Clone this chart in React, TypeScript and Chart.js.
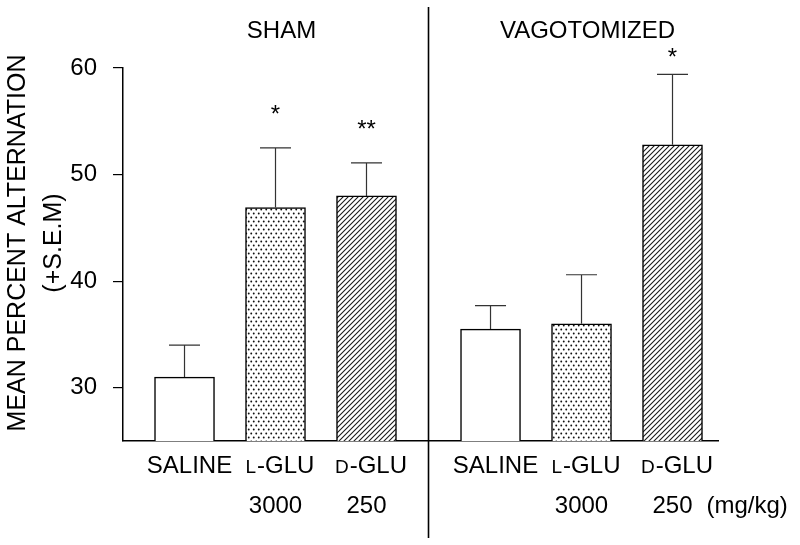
import React, { useEffect, useRef } from "react";
import { Chart, registerables } from "chart.js";
Chart.register(...registerables);

// ---- data ----
const groups = ["SHAM", "VAGOTOMIZED"];
const treatments = ["SALINE", "L-GLU", "D-GLU"];
const doses = ["", "3000", "250"];
const doseUnit = "(mg/kg)";
const shamMeans = [31.0, 46.9, 48.0];
const shamSem = [3.0, 5.6, 3.1];
const vagMeans = [35.5, 36.0, 52.8];
const vagSem = [2.2, 4.6, 6.6];
const shamSig = ["", "*", "**"];
const vagSig = ["", "", "*"];
const yTicks = [30, 40, 50, 60];
const yTitle = ["MEAN PERCENT ALTERNATION", "(+S.E.M)"];

const means = [shamMeans, vagMeans];
const sems = [shamSem, vagSem];
const sigs = [shamSig, vagSig];

// ---- layout / style constants ----
const GROUP_GAP = 3.363;
const FONT = "'Liberation Sans', Arial, Helvetica, sans-serif";

function makeDots(): CanvasPattern | string {
  const w = 5;
  const h = 8;
  const c = document.createElement("canvas");
  c.width = w;
  c.height = h;
  const g = c.getContext("2d");
  if (!g) return "#ccc";
  g.fillStyle = "#fff";
  g.fillRect(0, 0, w, h);
  g.fillStyle = "#111";
  g.beginPath();
  g.arc(1.25, 1.5, 0.95, 0, Math.PI * 2);
  g.arc(3.75, 5.5, 0.95, 0, Math.PI * 2);
  g.fill();
  return g.createPattern(c, "repeat") || "#ccc";
}

function makeHatch(): CanvasPattern | string {
  const s = 5;
  const c = document.createElement("canvas");
  c.width = s;
  c.height = s;
  const g = c.getContext("2d");
  if (!g) return "#999";
  g.fillStyle = "#fff";
  g.fillRect(0, 0, s, s);
  g.strokeStyle = "#1a1a1a";
  g.lineWidth = 1.1;
  g.beginPath();
  g.moveTo(-1, s + 1);
  g.lineTo(s + 1, -1);
  g.moveTo(-1, 1);
  g.lineTo(1, -1);
  g.moveTo(s - 1, s + 1);
  g.lineTo(s + 1, s - 1);
  g.stroke();
  return g.createPattern(c, "repeat") || "#999";
}

const errorBarPlugin = {
  id: "errorBars",
  afterDatasetsDraw(chart: any) {
    const ctx = chart.ctx;
    const y = chart.scales.y;
    ctx.save();
    ctx.strokeStyle = "#333";
    ctx.lineWidth = 1.2;
    chart.data.datasets.forEach((ds: any, di: number) => {
      const meta = chart.getDatasetMeta(di);
      meta.data.forEach((el: any, gi: number) => {
        const top = y.getPixelForValue(means[gi][di] + sems[gi][di]);
        ctx.beginPath();
        ctx.moveTo(el.x, el.y);
        ctx.lineTo(el.x, top);
        ctx.moveTo(el.x - 15.5, top);
        ctx.lineTo(el.x + 15.5, top);
        ctx.stroke();
      });
    });
    ctx.restore();
  },
};

const annotatePlugin = {
  id: "annotate",
  afterDraw(chart: any) {
    const ctx = chart.ctx;
    const xs = chart.scales.x;
    const ys = chart.scales.y;
    ctx.save();
    ctx.fillStyle = "#000";
    ctx.strokeStyle = "#000";

    // divider between groups
    const divX = xs.getPixelForValue((treatments.length - 1 + GROUP_GAP) / 2);
    ctx.lineWidth = 1.6;
    ctx.beginPath();
    ctx.moveTo(divX, 7);
    ctx.lineTo(divX, 538);
    ctx.stroke();

    const titleBaseline = 38;
    const row1 = 473;
    const row2 = 513;
    ctx.textBaseline = "alphabetic";

    groups.forEach((gname, gi) => {
      const first = xs.getPixelForValue(gi * GROUP_GAP);
      const last = xs.getPixelForValue(gi * GROUP_GAP + treatments.length - 1);
      ctx.font = `24px ${FONT}`;
      ctx.textAlign = "center";
      ctx.fillText(gname, (first + last) / 2 + 6, titleBaseline);

      treatments.forEach((t, i) => {
        const cx = xs.getPixelForValue(gi * GROUP_GAP + i);
        // treatment label (small-cap L / D)
        const small = /^[LD]-/.test(t);
        ctx.textAlign = "left";
        if (small) {
          ctx.font = `19px ${FONT}`;
          const w1 = ctx.measureText(t[0]).width;
          ctx.font = `24px ${FONT}`;
          const w2 = ctx.measureText(t.slice(1)).width;
          const start = cx + 4 - (w1 + w2) / 2;
          ctx.font = `19px ${FONT}`;
          ctx.fillText(t[0], start, row1);
          ctx.font = `24px ${FONT}`;
          ctx.fillText(t.slice(1), start + w1 + 1, row1);
        } else {
          ctx.font = `24px ${FONT}`;
          ctx.textAlign = "center";
          ctx.fillText(t, cx + 5, row1);
        }
        // dose
        ctx.font = `24px ${FONT}`;
        ctx.textAlign = "center";
        if (doses[i]) ctx.fillText(doses[i], cx, row2);
        if (gi === groups.length - 1 && i === treatments.length - 1) {
          const w = ctx.measureText(doses[i]).width;
          ctx.textAlign = "left";
          ctx.fillText(doseUnit, cx + w / 2 + 14, row2);
        }
        // significance stars
        const s = sigs[gi][i];
        if (s) {
          const cap = ys.getPixelForValue(means[gi][i] + sems[gi][i]);
          const by = Math.max(cap - 26, titleBaseline + 27);
          ctx.textAlign = "center";
          ctx.fillText(s, cx, by);
        }
      });
    });

    // y axis title
    ctx.font = `25px ${FONT}`;
    ctx.textAlign = "center";
    ctx.translate(25, 243);
    ctx.rotate(-Math.PI / 2);
    ctx.fillText(yTitle[0], 0, 0);
    ctx.fillText(yTitle[1], 0, 36);
    ctx.restore();
  },
};

export default function App() {
  const ref = useRef<HTMLCanvasElement | null>(null);
  useEffect(() => {
    if (!ref.current) return;
    const fills = ["#ffffff", makeDots(), makeHatch()];
    const chart = new Chart(ref.current, {
      type: "bar",
      data: {
        datasets: treatments.map((t, i) => ({
          label: t,
          data: groups.map((g, gi) => ({ x: gi * GROUP_GAP + i, y: means[gi][i] })),
          backgroundColor: fills[i] as any,
          borderColor: "#000",
          borderWidth: 1.5,
          barThickness: 60,
          grouped: false,
        })),
      },
      options: {
        responsive: false,
        animation: false,
        devicePixelRatio: 1,
        layout: { padding: { left: 0, right: 82, top: 68, bottom: 0 } },
        plugins: {
          legend: { display: false },
          tooltip: { enabled: false },
        },
        scales: {
          x: {
            type: "linear",
            min: -0.676,
            max: 5.863,
            offset: false,
            grid: { display: false, offset: false, drawTicks: false },
            ticks: { display: false },
            border: { display: true, color: "#000", width: 1.5 },
            afterFit: (s: any) => {
              s.height = 104;
            },
          },
          y: {
            min: 25,
            max: 60,
            grid: {
              drawOnChartArea: false,
              drawTicks: true,
              tickLength: 10,
              color: "#000",
              lineWidth: 1.2,
            },
            border: { display: true, color: "#000", width: 1.5 },
            ticks: { padding: 16, color: "#000", font: { size: 24, family: FONT } },
            afterBuildTicks: (s: any) => {
              s.ticks = yTicks.map((v) => ({ value: v }));
            },
            afterFit: (s: any) => {
              s.width = 123;
            },
          },
        },
      } as any,
      plugins: [errorBarPlugin, annotatePlugin],
    });
    return () => chart.destroy();
  }, []);
  return (
    <div style={{ position: "absolute", left: 0, top: 0, width: 800, height: 545, background: "#fff" }}>
      <canvas ref={ref} width={800} height={545} style={{ width: 800, height: 545 }} />
    </div>
  );
}
